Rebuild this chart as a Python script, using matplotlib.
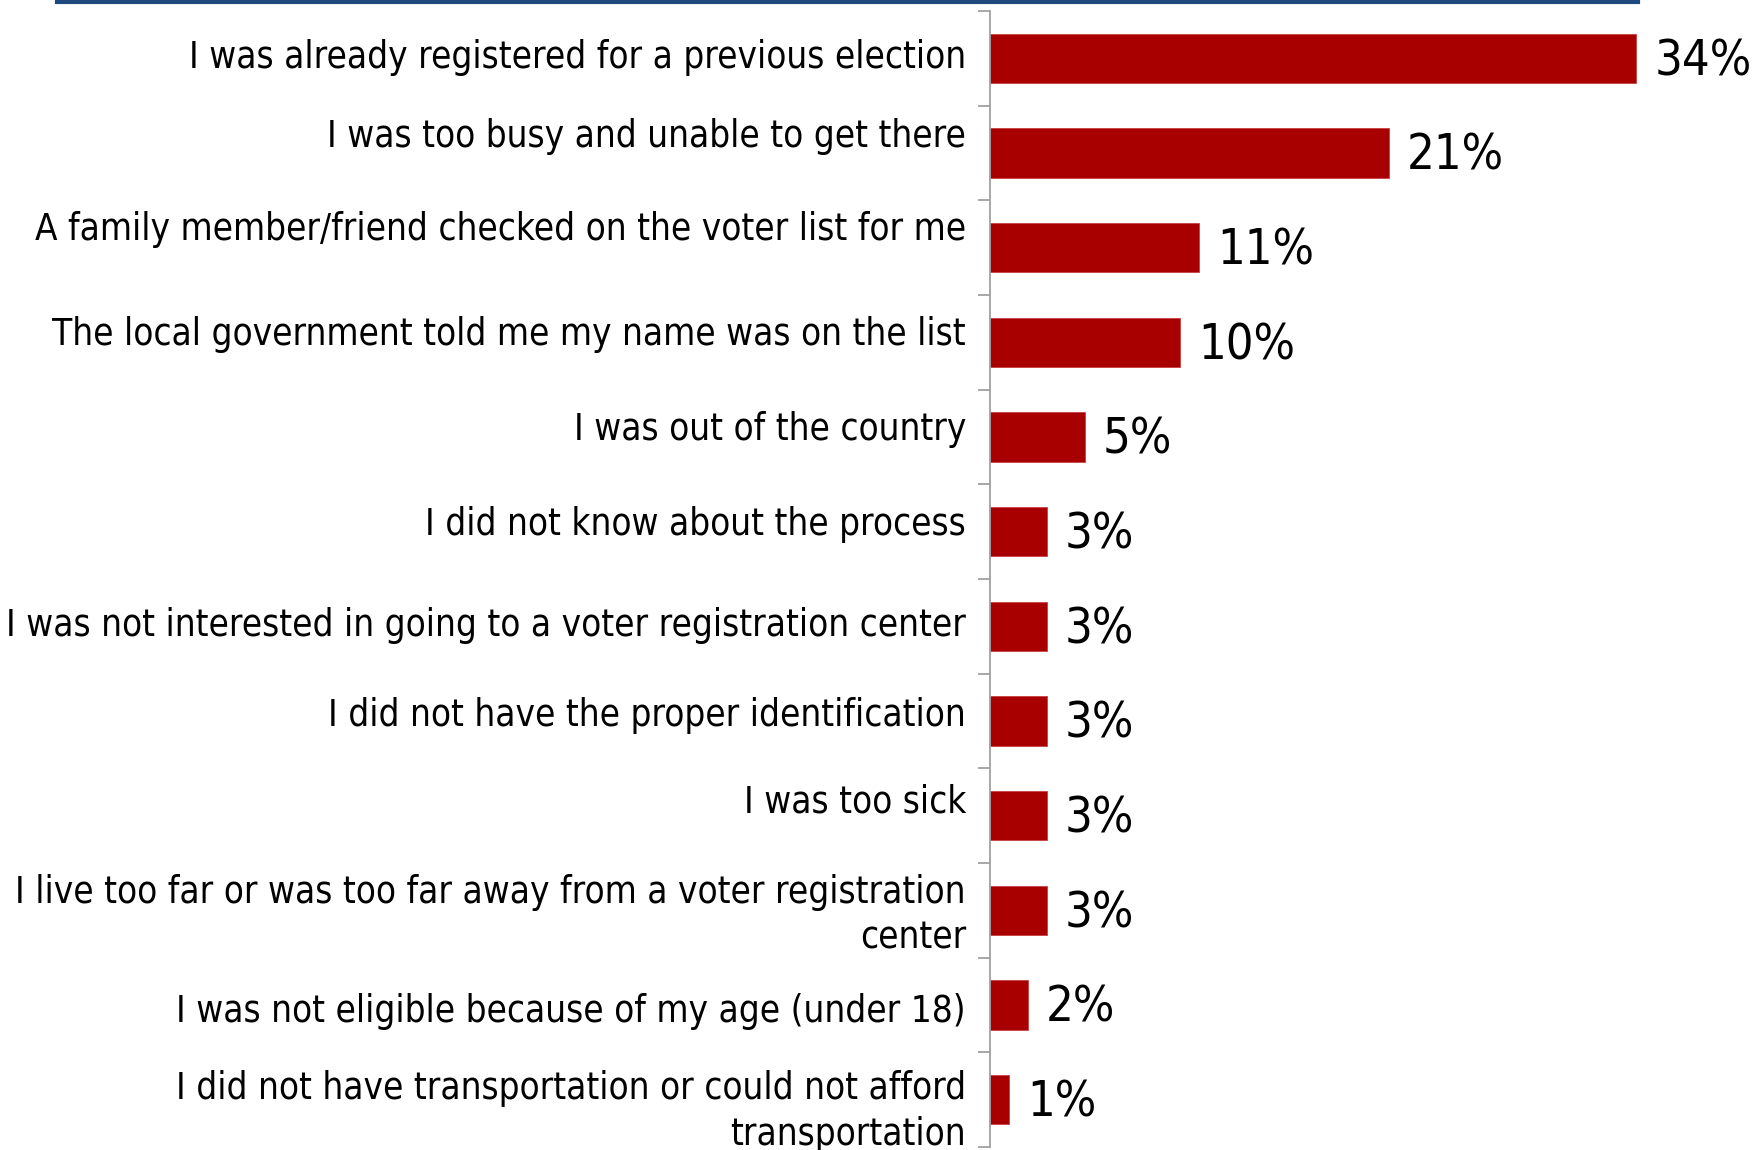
# Reasons for not checking the voter list - horizontal bar chart

import numpy as np
import matplotlib.pyplot as plt
from matplotlib.lines import Line2D
from matplotlib.transforms import ScaledTranslation, blended_transform_factory

# survey answers and their shares (percent)
reasons = [
    "I was already registered for a previous election",
    "I was too busy and unable to get there",
    "A family member/friend checked on the voter list for me",
    "The local government told me my name was on the list",
    "I was out of the country",
    "I did not know about the process",
    "I was not interested in going to a voter registration center",
    "I did not have the proper identification",
    "I was too sick",
    "I live too far or was too far away from a voter registration\ncenter",
    "I was not eligible because of my age (under 18)",
    "I did not have transportation or could not afford\ntransportation",
]
shares = [34, 21, 11, 10, 5, 3, 3, 3, 3, 3, 2, 1]
share_labels = [f"{v}%" for v in shares]

# vertical nudge of each category label, in pixels (positive = up)
label_nudge = [1, 17, 18, 8, 8, 7, 1, 6, 14, -5, -7, -12]

bar_color = "#A80000"
W, H = 1765, 1150

fig = plt.figure(figsize=(W / 100, H / 100), dpi=100)
# axes sit right of the long category labels
left, right, top, bottom = 990, 1638, 11, 1147
ax = fig.add_axes([left / W, (H - bottom) / H, (right - left) / W, (bottom - top) / H])

y = np.arange(len(reasons))
ax.barh(y, shares, height=0.52, color=bar_color, edgecolor="#C84040", linewidth=0.6)

ax.set_xlim(0, 34.1)
ax.set_ylim(len(reasons) - 0.5, -0.5)

for yi, v, txt in zip(y, shares, share_labels):
    ax.annotate(txt, (v, yi), xytext=(13, -2), textcoords="offset points",
                va="center", ha="left", fontsize=35, fontstretch="condensed",
                color="black", annotation_clip=False)

# category labels, right-aligned against the axis
trans = blended_transform_factory(ax.transAxes, ax.transData)
for yi, txt, dy in zip(y, reasons, label_nudge):
    off = ScaledTranslation(-24 / 100, dy / 100, fig.dpi_scale_trans)
    ax.text(0, yi, txt, transform=trans + off, ha="right", va="center",
            multialignment="right", fontsize=26.4, fontstretch="condensed",
            linespacing=1.3, clip_on=False)

# tick marks between categories only
ax.set_yticks([])
ax.set_yticks(np.arange(-0.5, len(reasons)), minor=True)
ax.tick_params(axis="y", which="minor", length=8.5, width=1.3, color="#A0A0A0")
ax.set_xticks([])

for side in ["top", "right", "bottom"]:
    ax.spines[side].set_visible(False)
ax.spines["left"].set_color("#A0A0A0")
ax.spines["left"].set_linewidth(1.3)

# dark blue rule across the top
fig.add_artist(Line2D([57 / W, 1638 / W], [1 - 2 / H, 1 - 2 / H],
                      color="#1F497D", linewidth=3, transform=fig.transFigure))

fig.savefig("out.png", dpi=100)
